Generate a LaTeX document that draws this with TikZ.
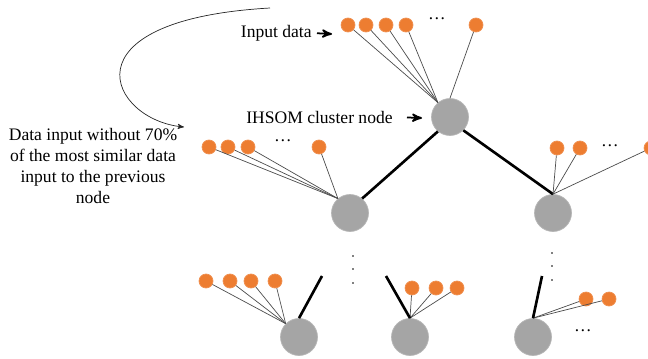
\documentclass[tikz,border=0pt]{standalone}
\usepackage{fontspec}
\setmainfont{Liberation Serif}
\usetikzlibrary{calc,positioning,arrows}
\definecolor{clustergray}{HTML}{A5A5A5}
\definecolor{dataorange}{HTML}{ED7D31}
\begin{document}
\begin{tikzpicture}
  [x=0.02cm, y=-0.02cm, >=stealth',
    cluster/.style={circle, fill=clustergray, draw=clustergray!80, minimum size=0.74cm, inner sep=0pt},
    datum/.style={circle, fill=dataorange, draw=dataorange!85, minimum size=0.28cm, inner sep=0pt},
    link/.style={draw, black!70, thin},
    branch/.style={draw, black, line width=1.5pt},
    pointer/.style={draw, ->, line width=1pt},
    caption/.style={font=\fontsize{10}{12}\selectfont, inner sep=0pt}
  ]
  \useasboundingbox (0,0) rectangle (648,358);

  \node[cluster] (top) at (450,117) {};
  \node[cluster] (midL) at (350,213) {};
  \node[cluster] (midR) at (553,213) {};
  \node[cluster] (botL) at (299,337) {};
  \node[cluster] (botM) at (410,337) {};
  \node[cluster] (botR) at (533,337) {};

  \draw[branch] (top.230) -- (midL.50);
  \draw[branch] (top.-45) -- (midR.north);

  % input data of the top node
  \foreach \x [count=\i] in {348,366,386,406,476}
    \node[datum] (in\i) at (\x,25) {};
  \node[caption] (indots) at (437,19) {\dots};
  \foreach \i in {1,...,4}
    \draw[link] (in\i) -- (top.130);
  \draw[link] (in5) -- (top.north);

  % left child
  \foreach \x [count=\i] in {209,228,248,319}
    \node[datum] (ml\i) at (\x,147) {};
  \node[caption] (mldots) at (283,141) {\dots};
  \foreach \i in {1,...,4}
    \draw[link] (ml\i) -- (midL.130);

  % right child
  \foreach \x [count=\i] in {557,580,651}
    \node[datum] (mr\i) at (\x,148) {};
  \node[caption] (mrdots) at (610,146) {\dots};
  \foreach \i in {1,...,3}
    \draw[link] (mr\i) -- (midR.north);

  % bottom row
  \foreach \x [count=\i] in {206,230,251,275}
    \node[datum] (bl\i) at (\x,281) {};
  \foreach \i in {1,...,4}
    \draw[link] (bl\i) -- (botL.135);
  \coordinate (blup) at (322,276);
  \draw[branch] (botL.north) -- (blup);

  \foreach \x [count=\i] in {412,436,457}
    \node[datum] (bm\i) at (\x,288) {};
  \foreach \i in {1,...,3}
    \draw[link] (bm\i) -- (botM.north);
  \coordinate (bmup) at (386,276);
  \draw[branch] (botM.north) -- (bmup);

  \foreach \x [count=\i] in {586,609}
    \node[datum] (br\i) at (\x,299) {};
  \foreach \i in {1,2}
    \draw[link] (br\i) -- (botR.north);
  \node[caption] (brdots) at (583,331) {\dots};
  \coordinate (brup) at (542,276);
  \draw[branch] (botR.north) -- (brup);

  \foreach \y in {256,269,283}
    \fill (353,\y) circle (0.9);
  \foreach \y in {253,266,280}
    \fill (552,\y) circle (0.9);

  % labels
  \node[caption, anchor=east] (inputlbl) at (312,33) {Input data};
  \coordinate (inputtip) at (332,34);
  \draw[pointer, shorten <=0.1cm] (inputlbl.east) -- (inputtip);

  \node[caption, anchor=east] (clusterlbl) at (393,117) {IHSOM cluster node};
  \coordinate (clustertip) at (422,118);
  \draw[pointer, shorten <=0.28cm] (clusterlbl.east) -- (clustertip);

  \node[caption, align=center] (note) at (93,166)
    {Data input without 70\%\\of the most similar data\\input to the previous\\node};
  \coordinate (curvestart) at (270,8);
  \coordinate (curveend) at (184,127);
  \draw[->, black!85] (curvestart) .. controls (60,20) and (110,120) .. (curveend);
\end{tikzpicture}
\end{document}
